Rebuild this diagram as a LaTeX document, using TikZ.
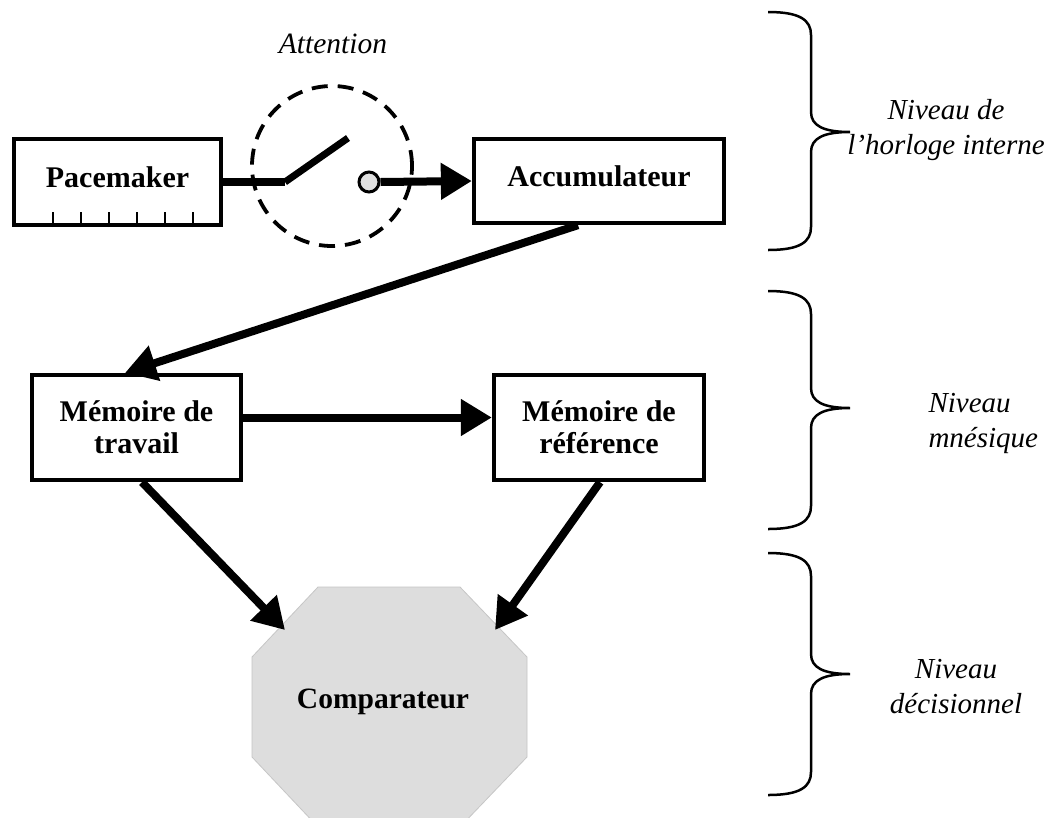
\documentclass[tikz,border=0pt]{standalone}
\usepackage{fontspec}
\setmainfont{Liberation Serif}
\usetikzlibrary{arrows.meta,calc}
\begin{document}
\begin{tikzpicture}[x=1pt,y=-1pt,
  box/.style={draw, line width=4.3pt, inner sep=0pt, align=center,
    font=\fontsize{30}{32}\selectfont\bfseries},
  oneline/.style={text height=20pt, text depth=9pt},
  conn/.style={line width=8pt, -{Triangle[length=31pt,width=35pt]}},
  thick line/.style={line width=8pt},
  lbl/.style={font=\fontsize{29}{35}\selectfont\itshape, align=center},
  levbrace/.style={line width=2.5pt}]
\useasboundingbox[fill=white] (0,0) rectangle (1046,817);

% comparateur octagon
\fill[gray!27, draw=gray!45, line width=0.8pt] (318,587) -- (460,587) -- (527,657) -- (527,757) -- (460,827) -- (318,827) -- (252,757) -- (252,657) -- cycle;
\node[font=\fontsize{29.5}{32}\selectfont\bfseries] (cmp) at (383,702) {Comparateur};
\coordinate (cmpL) at (285,630);
\coordinate (cmpR) at (495,630);

% boxes
\node[box, oneline, minimum width=207pt, minimum height=86pt] (pace) at (117.5,182) {Pacemaker};
\node[box, oneline, minimum width=250pt, minimum height=84pt] (acc) at (599,181) {Accumulateur};
\node[box, minimum width=209pt, minimum height=105pt] (mt) at (136.5,427.5) {Mémoire de\\travail};
\node[box, minimum width=210pt, minimum height=105pt] (mr) at (599,427.5) {Mémoire de\\référence};

% pacemaker ticks
\foreach \x in {53,81,109,137,165,193}
  \draw[line width=2pt] (\x,227) -- (\x,212);

% attention gate
\node[circle, draw, line width=3.8pt, dash pattern=on 16pt off 10pt, minimum size=160pt, inner sep=0pt] (gate) at (332,166) {};
\node[lbl, font=\fontsize{29.5}{35}\selectfont\itshape] (attn) at (333,44) {Attention};
\coordinate (piv) at (285,182);
\coordinate (lev) at (348,138);
\node[circle, draw, line width=3pt, fill=gray!25, minimum size=20pt, inner sep=0pt] (sw) at (369,182) {};
\draw[thick line] (pace.east) -- (piv);
\draw[line width=7pt] (piv) -- (lev);
\draw[conn] (sw.east) -- (acc.west);

% connectors
\draw[conn] ([xshift=-21pt]acc.south) -- ([xshift=-11.5pt]mt.north);
\draw[conn] ([yshift=10pt]mt.east) -- ([yshift=10pt]mr.west);
\draw[conn] ([xshift=5.5pt]mt.south) -- (cmpL);
\draw[conn] ([xshift=1pt]mr.south) -- (cmpR);

% braces
\draw[levbrace] (768,12) .. controls (800,12) and (811,20) .. (811,35) -- (811,112) .. controls (811,126) and (824,132) .. (850,132) .. controls (824,132) and (811,138) .. (811,152) -- (811,227) .. controls (811,242) and (800,250) .. (768,250);
\draw[levbrace] (768,291) .. controls (800,291) and (811,299) .. (811,314) -- (811,388) .. controls (811,402) and (824,408) .. (850,408) .. controls (824,408) and (811,414) .. (811,428) -- (811,506) .. controls (811,521) and (800,529) .. (768,529);
\draw[levbrace] (768,553) .. controls (800,553) and (811,561) .. (811,576) -- (811,654) .. controls (811,668) and (824,674) .. (850,674) .. controls (824,674) and (811,680) .. (811,694) -- (811,772) .. controls (811,787) and (800,795) .. (768,795);

\node[lbl] (l1) at (946,130) {Niveau de\\l’horloge interne};
\node[lbl, align=left, anchor=west] (l2) at (925,423) {Niveau\\mnésique};
\node[lbl] (l3) at (956,687) {Niveau\\décisionnel};
\end{tikzpicture}
\end{document}
